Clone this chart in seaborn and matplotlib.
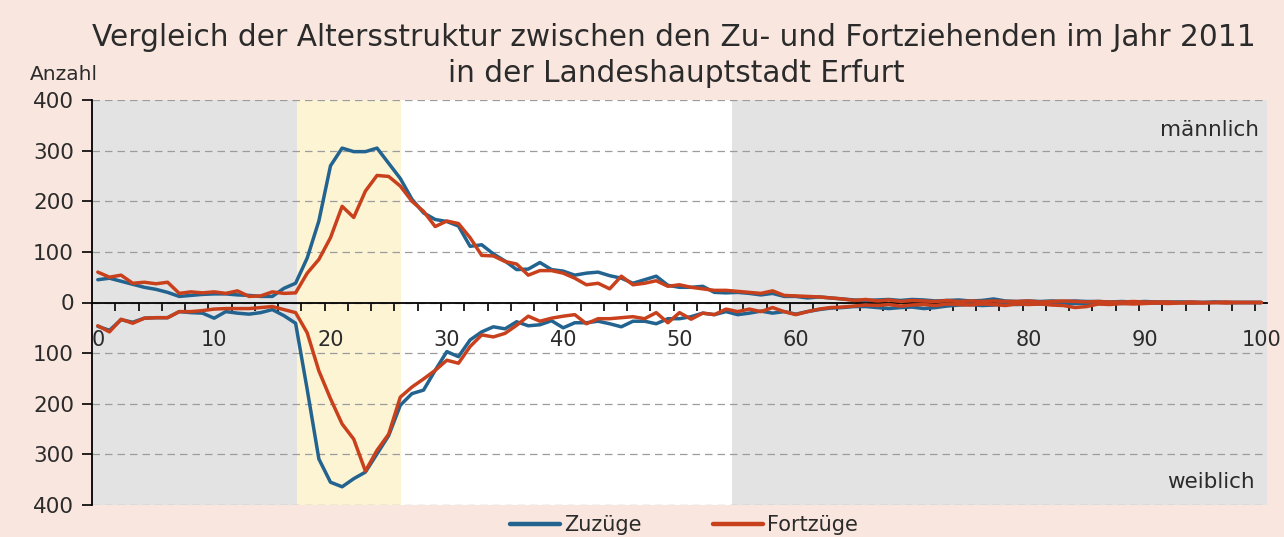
import numpy as np
import pandas as pd
import matplotlib
matplotlib.use("Agg")
import matplotlib.pyplot as plt
from matplotlib.lines import Line2D
from matplotlib.ticker import FixedLocator, FuncFormatter
import seaborn as sns

# ---------------- data ----------------
ages = list(range(0, 101))

zuzuege_maennlich = [45, 48, 42, 36, 30, 26, 20, 12, 14, 16, 17, 17, 15, 14, 12, 12, 28, 38, 88, 161,
                     270, 305, 298, 298, 305, 275, 245, 204, 177, 164, 160, 151, 111, 114, 96, 82, 65, 66, 79, 65,
                     62, 54, 58, 60, 53, 48, 38, 45, 52, 34, 30, 30, 32, 20, 19, 20, 18, 15, 18, 12,
                     12, 9, 11, 9, 7, 5, 4, 5, 6, 4, 6, 5, 3, 4, 5, 3, 4, 7, 3, 2,
                     3, 2, 3, 2, 3, 2, 2, 1, 2, 1, 2, 1, 1, 1, 1, 0, 1, 0, 0, 0, 0]

fortzuege_maennlich = [60, 50, 54, 38, 40, 37, 40, 18, 21, 19, 21, 18, 23, 12, 13, 21, 18, 19, 58, 85,
                       128, 190, 168, 220, 251, 249, 230, 200, 180, 150, 161, 156, 128, 93, 92, 81, 76, 54, 63, 63,
                       58, 48, 35, 38, 27, 52, 35, 38, 43, 32, 35, 30, 27, 24, 24, 22, 20, 18, 23, 14,
                       13, 12, 11, 9, 7, 4, 6, 3, 5, 2, 4, 3, 2, 4, 2, 3, 2, 3, 2, 2,
                       3, 1, 2, 3, 2, 1, 2, 1, 1, 2, 1, 1, 1, 0, 1, 0, 0, 1, 0, 0, 0]

zuzuege_weiblich = [47, 55, 34, 39, 31, 30, 30, 18, 20, 21, 31, 18, 21, 23, 20, 14, 26, 41, 172, 309,
                    355, 364, 348, 335, 299, 263, 203, 180, 173, 134, 97, 107, 74, 58, 48, 52, 38, 46, 44, 36,
                    50, 40, 40, 37, 42, 48, 37, 37, 42, 32, 32, 28, 21, 24, 18, 24, 21, 17, 21, 18,
                    23, 18, 14, 11, 10, 8, 8, 10, 12, 10, 9, 12, 10, 7, 5, 4, 6, 5, 3, 4,
                    3, 3, 2, 3, 2, 2, 2, 1, 2, 1, 1, 1, 1, 0, 1, 0, 0, 0, 0, 0, 0]

fortzuege_weiblich = [46, 58, 33, 41, 31, 30, 30, 18, 18, 16, 13, 12, 12, 12, 10, 8, 14, 20, 60, 135,
                      190, 240, 270, 333, 292, 260, 187, 167, 151, 134, 114, 120, 87, 64, 68, 61, 45, 27, 37, 31,
                      27, 24, 42, 32, 32, 30, 28, 32, 20, 40, 20, 33, 21, 24, 13, 18, 13, 18, 10, 18,
                      24, 18, 13, 10, 9, 7, 5, 6, 4, 7, 5, 4, 6, 3, 4, 5, 3, 4, 6, 3,
                      4, 3, 5, 6, 10, 8, 3, 4, 2, 3, 2, 1, 2, 1, 1, 1, 0, 1, 0, 0, 0]

series_names = ["Zuzüge", "Fortzüge"]
x_tick_labels = ["0", "10", "20", "30", "40", "50", "60", "70", "80", "90", "100"]
y_tick_values = [-400, -300, -200, -100, 0, 100, 200, 300, 400]

# long table (female values plotted downward)
df = pd.concat([
    pd.DataFrame({"age": ages, "value": zuzuege_maennlich, "series": "Zuzüge", "sex": "m"}),
    pd.DataFrame({"age": ages, "value": fortzuege_maennlich, "series": "Fortzüge", "sex": "m"}),
    pd.DataFrame({"age": ages, "value": [-v for v in zuzuege_weiblich], "series": "Zuzüge", "sex": "w"}),
    pd.DataFrame({"age": ages, "value": [-v for v in fortzuege_weiblich], "series": "Fortzüge", "sex": "w"}),
], ignore_index=True)

# ---------------- style ----------------
sns.set_style("ticks")
plt.rcParams["font.family"] = ["DejaVu Sans"]

BG = "#f9e7df"
GREY = "#e3e3e3"
YELLOW = "#fdf4d4"
BLUE = "#23638f"
RED = "#c9411c"
TXT = "#2b2b2b"

fig = plt.figure(figsize=(12.84, 5.37), dpi=100, facecolor=BG)
ax = fig.add_axes([92 / 1284, 1 - 505 / 537, (1267 - 92) / 1284, (505 - 100) / 537])
ax.set_facecolor("white")

# background bands
ax.axvspan(-0.5, 17.1, color=GREY, zorder=0, lw=0)
ax.axvspan(17.1, 26.1, color=YELLOW, zorder=0, lw=0)
ax.axvspan(54.5, 100.5, color=GREY, zorder=0, lw=0)

# lines
palette = {"Zuzüge": BLUE, "Fortzüge": RED}
sns.lineplot(data=df, x="age", y="value", hue="series", units="sex", estimator=None,
             palette=palette, hue_order=series_names, linewidth=2.5, legend=False,
             ax=ax, zorder=3)
for ln in ax.get_lines():
    if ln.get_color() == RED:
        ln.set_zorder(4)

ax.set_xlim(-0.5, 100.5)
ax.set_ylim(-400, 400)
ax.set_xlabel("")
ax.set_ylabel("")

# grid
ax.set_axisbelow(True)
ax.yaxis.grid(True, linestyle=(0, (6, 4)), color="#9c9c9c", linewidth=0.9)
ax.xaxis.grid(False)

# spines
for s in ["top", "right"]:
    ax.spines[s].set_visible(False)
ax.spines["bottom"].set_position(("data", 0))
ax.spines["bottom"].set_color("black")
ax.spines["bottom"].set_linewidth(1.3)
ax.spines["bottom"].set_zorder(2.5)
ax.spines["left"].set_color("black")
ax.spines["left"].set_linewidth(1.3)

# x ticks: labels at 0,10,..; tick marks between categories every 2
ax.xaxis.set_major_locator(FixedLocator([int(t) for t in x_tick_labels]))
ax.set_xticklabels(x_tick_labels)
ax.xaxis.set_minor_locator(FixedLocator(np.arange(1.5, 100, 2)))
ax.tick_params(axis="x", which="major", length=0, pad=20, labelsize=15, labelcolor=TXT)
ax.tick_params(axis="x", which="minor", length=6, width=1.2, direction="out", color="black")

# y ticks: absolute values
ax.set_yticks(y_tick_values)
ax.yaxis.set_major_formatter(FuncFormatter(lambda v, p: f"{abs(int(v))}"))
ax.tick_params(axis="y", length=7, width=1.2, direction="out", pad=6, labelsize=15.5, labelcolor=TXT, color="black")

# texts
fig.text(674 / 1284, 1 - 38 / 537, "Vergleich der Altersstruktur zwischen den Zu- und Fortziehenden im Jahr 2011",
         ha="center", va="center", fontsize=21.3, color=TXT)
fig.text(676 / 1284, 1 - 73 / 537, "in der Landeshauptstadt Erfurt",
         ha="center", va="center", fontsize=21.3, color=TXT)
fig.text(30 / 1284, 1 - 75 / 537, "Anzahl", ha="left", va="center", fontsize=14.5, color=TXT)
ax.text(0.9935, 0.925, "männlich", transform=ax.transAxes, ha="right", va="center", fontsize=15.5, color=TXT)
ax.text(0.9895, 0.057, "weiblich", transform=ax.transAxes, ha="right", va="center", fontsize=15.5, color=TXT)

# legend
handles = [Line2D([0], [0], color=palette[n], lw=3.2) for n in series_names]
fig.legend(handles, series_names, loc="center", bbox_to_anchor=(684 / 1284, 1 - 525 / 537),
           ncol=2, frameon=False, fontsize=15, handlelength=2.4, handletextpad=0.2,
           columnspacing=3.4, labelcolor=TXT, borderpad=0.1)

fig.savefig("out.png", dpi=100, facecolor=BG)
